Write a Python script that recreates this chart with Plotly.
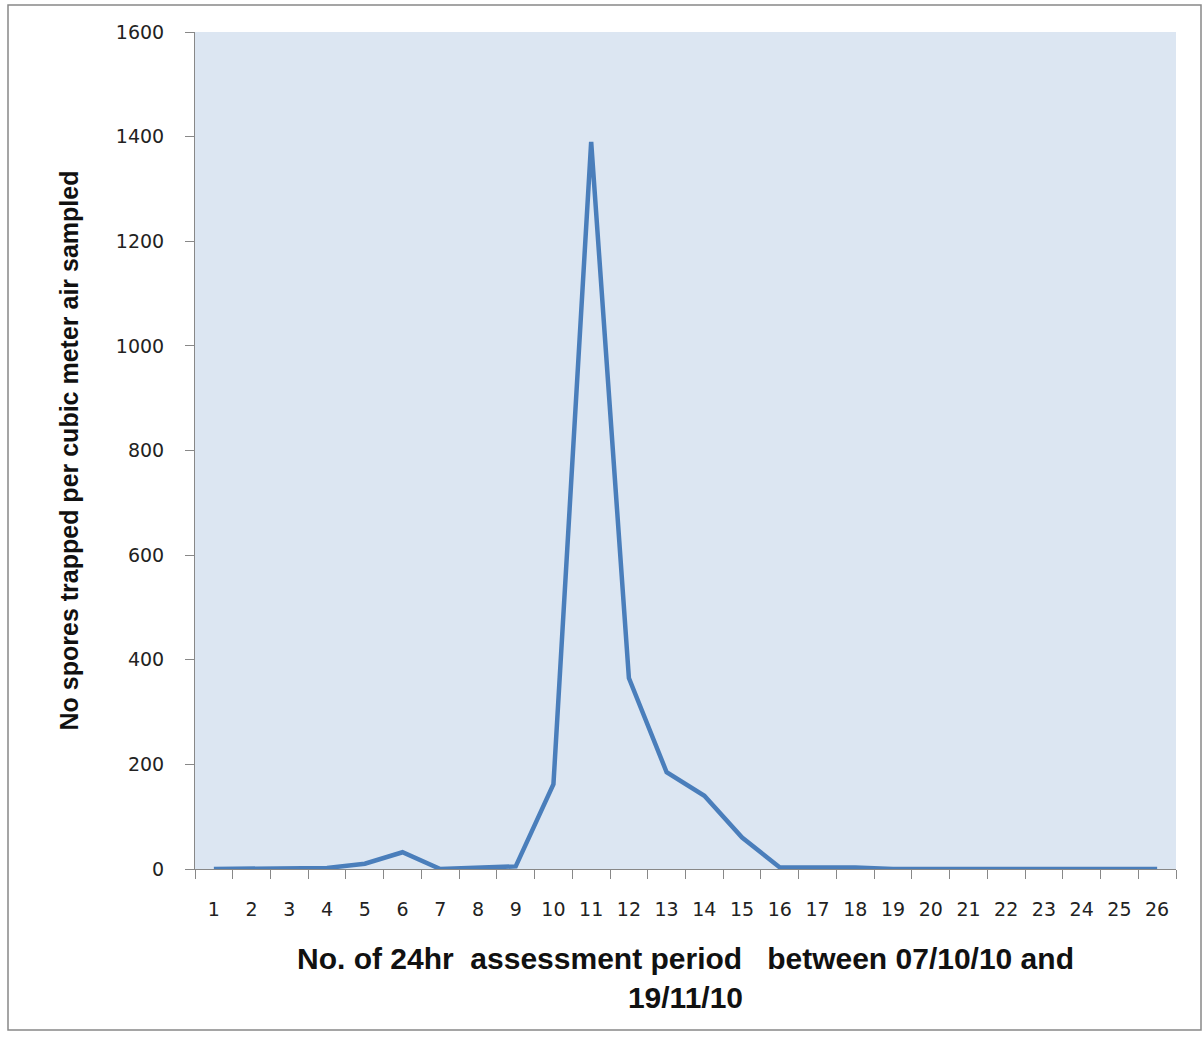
import plotly.graph_objects as go

periods = [str(i) for i in range(1, 27)]
spores = [0, 0, 2, 2, 10, 32, 0, 2, 5, 162, 1390, 365, 185, 140, 60, 3, 3, 3, 0, 0, 0, 0, 0, 0, 0, 0]
y_ticks = [0, 200, 400, 600, 800, 1000, 1200, 1400, 1600]

L, R, T, B = 195, 27, 32, 169
W, H = 1203, 1038
pw = W - L - R
ph = H - T - B

fig = go.Figure()
fig.add_trace(go.Scatter(
    x=periods, y=spores, mode="lines",
    line=dict(color="#4a7ebb", width=4.5),
    showlegend=False,
))

axis_font = dict(family="DejaVu Sans", size=19, color="#222222")
fig.update_layout(
    width=W, height=H,
    margin=dict(l=L, r=R, t=T, b=B),
    paper_bgcolor="white",
    plot_bgcolor="#dce6f2",
    xaxis=dict(
        type="category", tickson="boundaries", ticks="outside", ticklen=9,
        range=[-0.5, len(periods) - 0.5],
        tickcolor="#888888", showline=True, linecolor="#888888", linewidth=1,
        showgrid=False, tickfont=axis_font, ticklabelstandoff=23,
        zeroline=False,
    ),
    yaxis=dict(
        range=[0, 1600], tickvals=y_ticks, ticks="outside", ticklen=9,
        tickcolor="#888888", showline=True, linecolor="#888888", linewidth=1,
        showgrid=False, zeroline=False, tickfont=axis_font, ticklabelstandoff=17,
        title=dict(text="<b>No spores trapped per cubic meter air sampled</b>",
                   font=dict(family="Liberation Sans", size=25, color="#111111"),
                   standoff=30),
    ),
)

fig.add_annotation(
    text="<b>No. of 24hr  assessment period   between 07/10/10 and<br>19/11/10</b>",
    xref="paper", yref="paper", x=0.5, y=(869 - 978) / ph, yanchor="middle",
    showarrow=False, font=dict(family="Liberation Sans", size=30, color="#111111"),
    align="center",
)

fig.add_shape(
    type="rect", xref="paper", yref="paper",
    x0=(8 - L) / pw, x1=(1201 - L) / pw,
    y0=(869 - 1030) / ph, y1=(869 - 5) / ph,
    line=dict(color="#888888", width=1.5), fillcolor="rgba(0,0,0,0)", layer="below",
)

fig.write_html("out.html")
